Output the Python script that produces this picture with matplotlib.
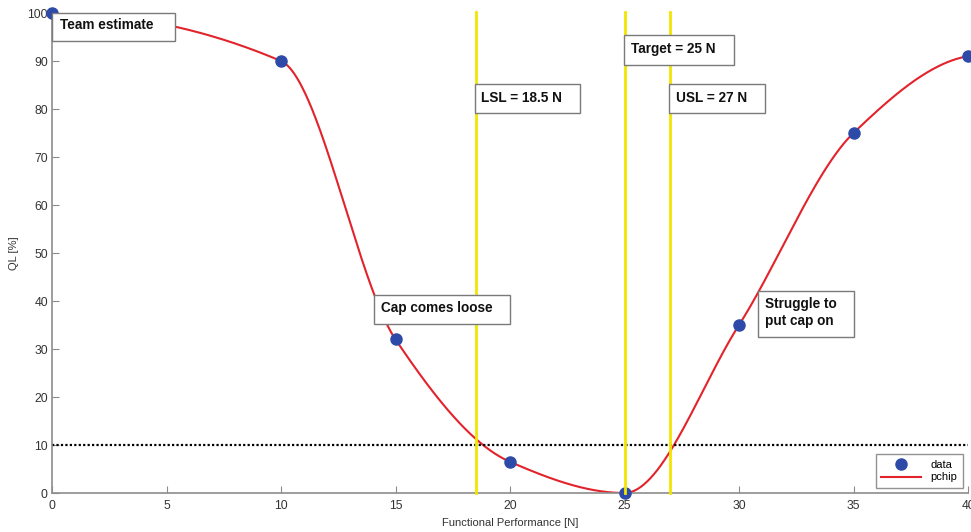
import numpy as np
import matplotlib
matplotlib.use("Agg")
import matplotlib.pyplot as plt
from matplotlib.patches import Rectangle

# Quality loss estimates vs. functional performance
force = [0, 10, 15, 20, 25, 30, 35, 40]
quality_loss = [100, 90, 32, 6.5, 0, 35, 75, 91]

lsl, target, usl = 18.5, 25, 27
threshold = 10

x_ticks = list(range(0, 41, 5))
y_ticks = list(range(0, 101, 10))


def pchip_slopes(x, y):
    x = np.asarray(x, float)
    y = np.asarray(y, float)
    h = np.diff(x)
    delta = np.diff(y) / h
    n = len(x)
    d = np.zeros(n)
    for k in range(1, n - 1):
        if delta[k - 1] * delta[k] > 0:
            w1 = 2 * h[k] + h[k - 1]
            w2 = h[k] + 2 * h[k - 1]
            d[k] = (w1 + w2) / (w1 / delta[k - 1] + w2 / delta[k])

    def end_slope(h0, h1, del0, del1):
        s = ((2 * h0 + h1) * del0 - h0 * del1) / (h0 + h1)
        if np.sign(s) != np.sign(del0):
            s = 0.0
        elif np.sign(del0) != np.sign(del1) and abs(s) > abs(3 * del0):
            s = 3 * del0
        return s

    d[0] = end_slope(h[0], h[1], delta[0], delta[1])
    d[-1] = end_slope(h[-1], h[-2], delta[-1], delta[-2])
    return d


def pchip_eval(x, y, xq):
    x = np.asarray(x, float)
    y = np.asarray(y, float)
    d = pchip_slopes(x, y)
    idx = np.clip(np.searchsorted(x, xq, side="right") - 1, 0, len(x) - 2)
    h = x[idx + 1] - x[idx]
    t = (xq - x[idx]) / h
    h00 = 2 * t**3 - 3 * t**2 + 1
    h10 = t**3 - 2 * t**2 + t
    h01 = -2 * t**3 + 3 * t**2
    h11 = t**3 - t**2
    return h00 * y[idx] + h10 * h * d[idx] + h01 * y[idx + 1] + h11 * h * d[idx + 1]


xs = np.linspace(force[0], force[-1], 800)
ys = pchip_eval(force, quality_loss, xs)

plt.rcParams["font.family"] = ["Liberation Sans", "DejaVu Sans"]

fig = plt.figure(figsize=(9.71, 5.32), dpi=100)
ax = fig.add_axes([52 / 971, 39 / 532, 916 / 971, 480 / 532])

axis_gray = "#8c8c8c"
curve, = ax.plot(xs, ys, color="#e3232b", lw=1.5, zorder=2, label="pchip")
dots, = ax.plot(force, quality_loss, "o", color="#2e4aa8", ms=8, zorder=3,
                clip_on=False, label="data", linestyle="none")
ax.axhline(threshold, color="black", lw=1.6, ls=(0, (1, 1)), zorder=2)
for xv in (lsl, target, usl):
    ax.plot([xv, xv], [0, 100.3], color="#f2e600", lw=2, zorder=4, clip_on=False)

# annotation boxes: (x0, x1, y0, y1) in data units, text anchor, text
notes = [
    ((0.0, 5.37, 94.2, 100.0), (0.35, 97.6), "Team estimate"),
    ((18.47, 23.06, 79.2, 85.2), (18.75, 82.3), "LSL = 18.5 N"),
    ((24.98, 29.78, 89.2, 95.4), (25.28, 92.5), "Target = 25 N"),
    ((26.94, 31.14, 79.2, 85.2), (27.25, 82.3), "USL = 27 N"),
    ((14.06, 20.0, 35.2, 41.25), (14.37, 38.5), "Cap comes loose"),
    ((30.83, 35.02, 32.5, 42.1), (31.14, 37.6), "Struggle to\nput cap on"),
]
for (x0, x1, y0, y1), (tx, ty), s in notes:
    ax.add_patch(Rectangle((x0, y0), x1 - x0, y1 - y0, fc="white",
                           ec="#7a7a7a", lw=1, zorder=5, clip_on=False))
    ax.text(tx, ty, s, fontsize=9.8, fontweight="bold", color="#111111",
            ha="left", va="center", zorder=6, linespacing=1.35)

ax.set_xlim(0, 40)
ax.set_ylim(0, 100)
ax.set_xticks(x_ticks)
ax.set_yticks(y_ticks)
ax.tick_params(direction="in", length=5, color=axis_gray, labelsize=8.7,
               labelcolor="#333333", pad=3)
ax.tick_params(axis="x", pad=5)
for side in ("top", "right"):
    ax.spines[side].set_visible(False)
for side in ("left", "bottom"):
    ax.spines[side].set_color(axis_gray)
    ax.spines[side].set_linewidth(1.2)

ax.set_xlabel("Functional Performance [N]", fontsize=8, color="#333333", labelpad=4)
ax.set_ylabel("QL [%]", fontsize=8, color="#333333", labelpad=6)

leg = ax.legend(handles=[dots, curve], loc="lower right",
                bbox_to_anchor=(0.9995, 0.0), borderaxespad=0.45,
                fontsize=8, frameon=True,
                fancybox=False, edgecolor="#777777", borderpad=0.5,
                handlelength=3.6, labelspacing=0.25, handletextpad=0.8)
leg.get_frame().set_linewidth(1)
leg.set_zorder(7)

fig.savefig("out.png", dpi=100, facecolor="white")
